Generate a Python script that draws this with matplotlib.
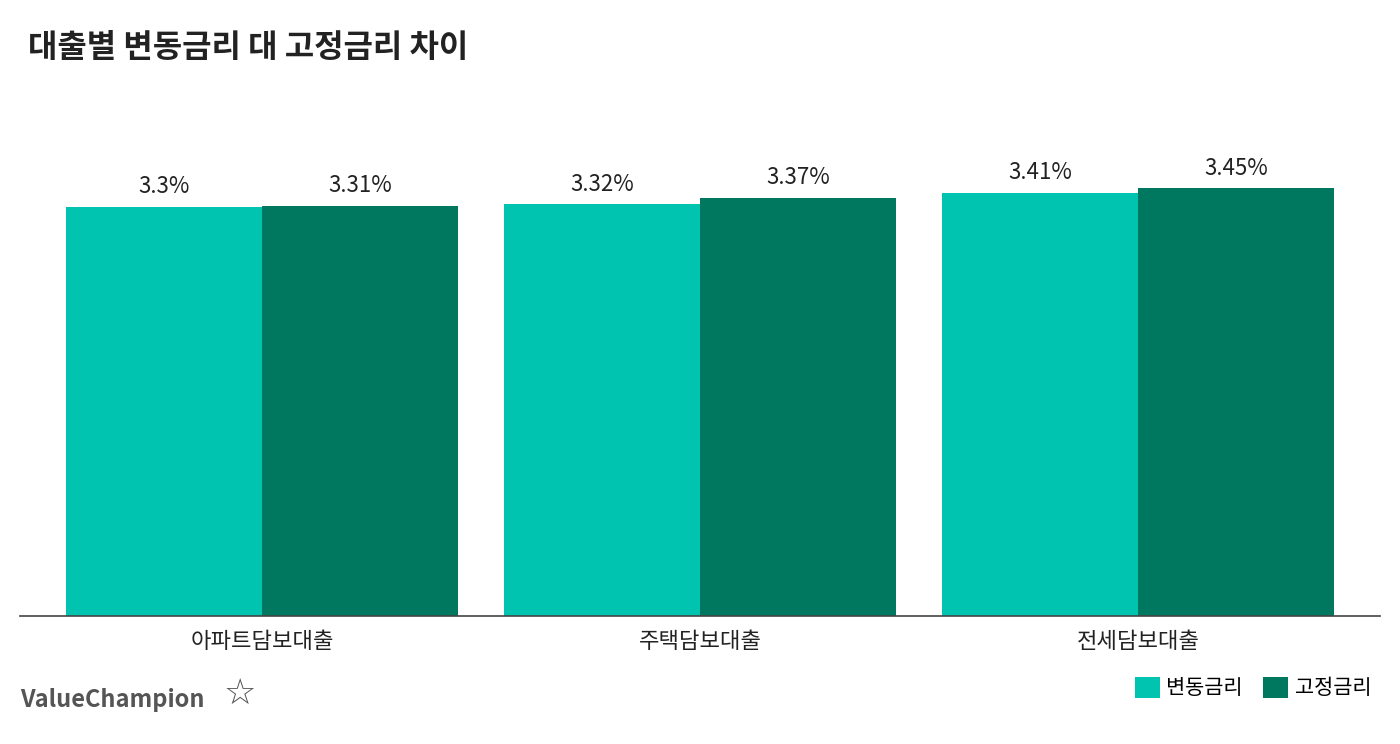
import numpy as np
import matplotlib.pyplot as plt

plt.rcParams['font.family'] = ['Noto Sans CJK KR', 'DejaVu Sans']

categories = ['아파트담보대출', '주택담보대출', '전세담보대출']
variable_rate = [3.3, 3.32, 3.41]
fixed_rate = [3.31, 3.37, 3.45]
variable_labels = ['3.3%', '3.32%', '3.41%']
fixed_labels = ['3.31%', '3.37%', '3.45%']
series_names = ['변동금리', '고정금리']

c_light = '#00C4B0'
c_dark = '#00775F'

W, H = 1400, 744
fig = plt.figure(figsize=(W / 100, H / 100), dpi=100)
# axes: x 20..1380 px, y baseline 616, top 100
ax = fig.add_axes([20 / W, 1 - 616 / H, 1360 / W, 516 / H])

x = np.arange(len(categories))
bw = 196 / 438
ax.bar(x - bw / 2, variable_rate, bw, color=c_light, label=series_names[0])
ax.bar(x + bw / 2, fixed_rate, bw, color=c_dark, label=series_names[1])
for xi, v, lab in zip(x, variable_rate, variable_labels):
    ax.text(xi - bw / 2, v + 0.07, lab, ha='center', va='bottom', fontsize=16, color='#222222')
for xi, v, lab in zip(x, fixed_rate, fixed_labels):
    ax.text(xi + bw / 2, v + 0.07, lab, ha='center', va='bottom', fontsize=16, color='#222222')

ax.set_xlim(-0.5525, 2.5525)
ax.set_ylim(0, 516 / 124)
ax.set_xticks(x)
ax.set_xticklabels(categories, fontsize=16, color='#222222')
ax.tick_params(axis='x', length=0, pad=10)
ax.set_yticks([])
for s in ['top', 'right', 'left']:
    ax.spines[s].set_visible(False)
ax.spines['bottom'].set_color('#444444')
ax.spines['bottom'].set_linewidth(1.2)

fig.text(28 / W, 1 - 48 / H, '대출별 변동금리 대 고정금리 차이', fontsize=23, fontweight='bold',
         va='center', ha='left', color='#222222')
fig.text(20 / W, 1 - 700 / H, 'ValueChampion', fontsize=17, fontweight='bold',
         va='center', ha='left', color='#555555')
fig.text(240 / W, 1 - 694 / H, '☆', fontsize=26, va='center', ha='center', color='#555555',
         family='DejaVu Sans')

leg = fig.legend(loc='lower right', bbox_to_anchor=(1390 / W, 1 - 718 / H), ncol=2, frameon=False,
                 fontsize=15, handlelength=1.2, handleheight=1.2, handletextpad=0.3, columnspacing=1.0)

fig.savefig('out.png', dpi=100)
